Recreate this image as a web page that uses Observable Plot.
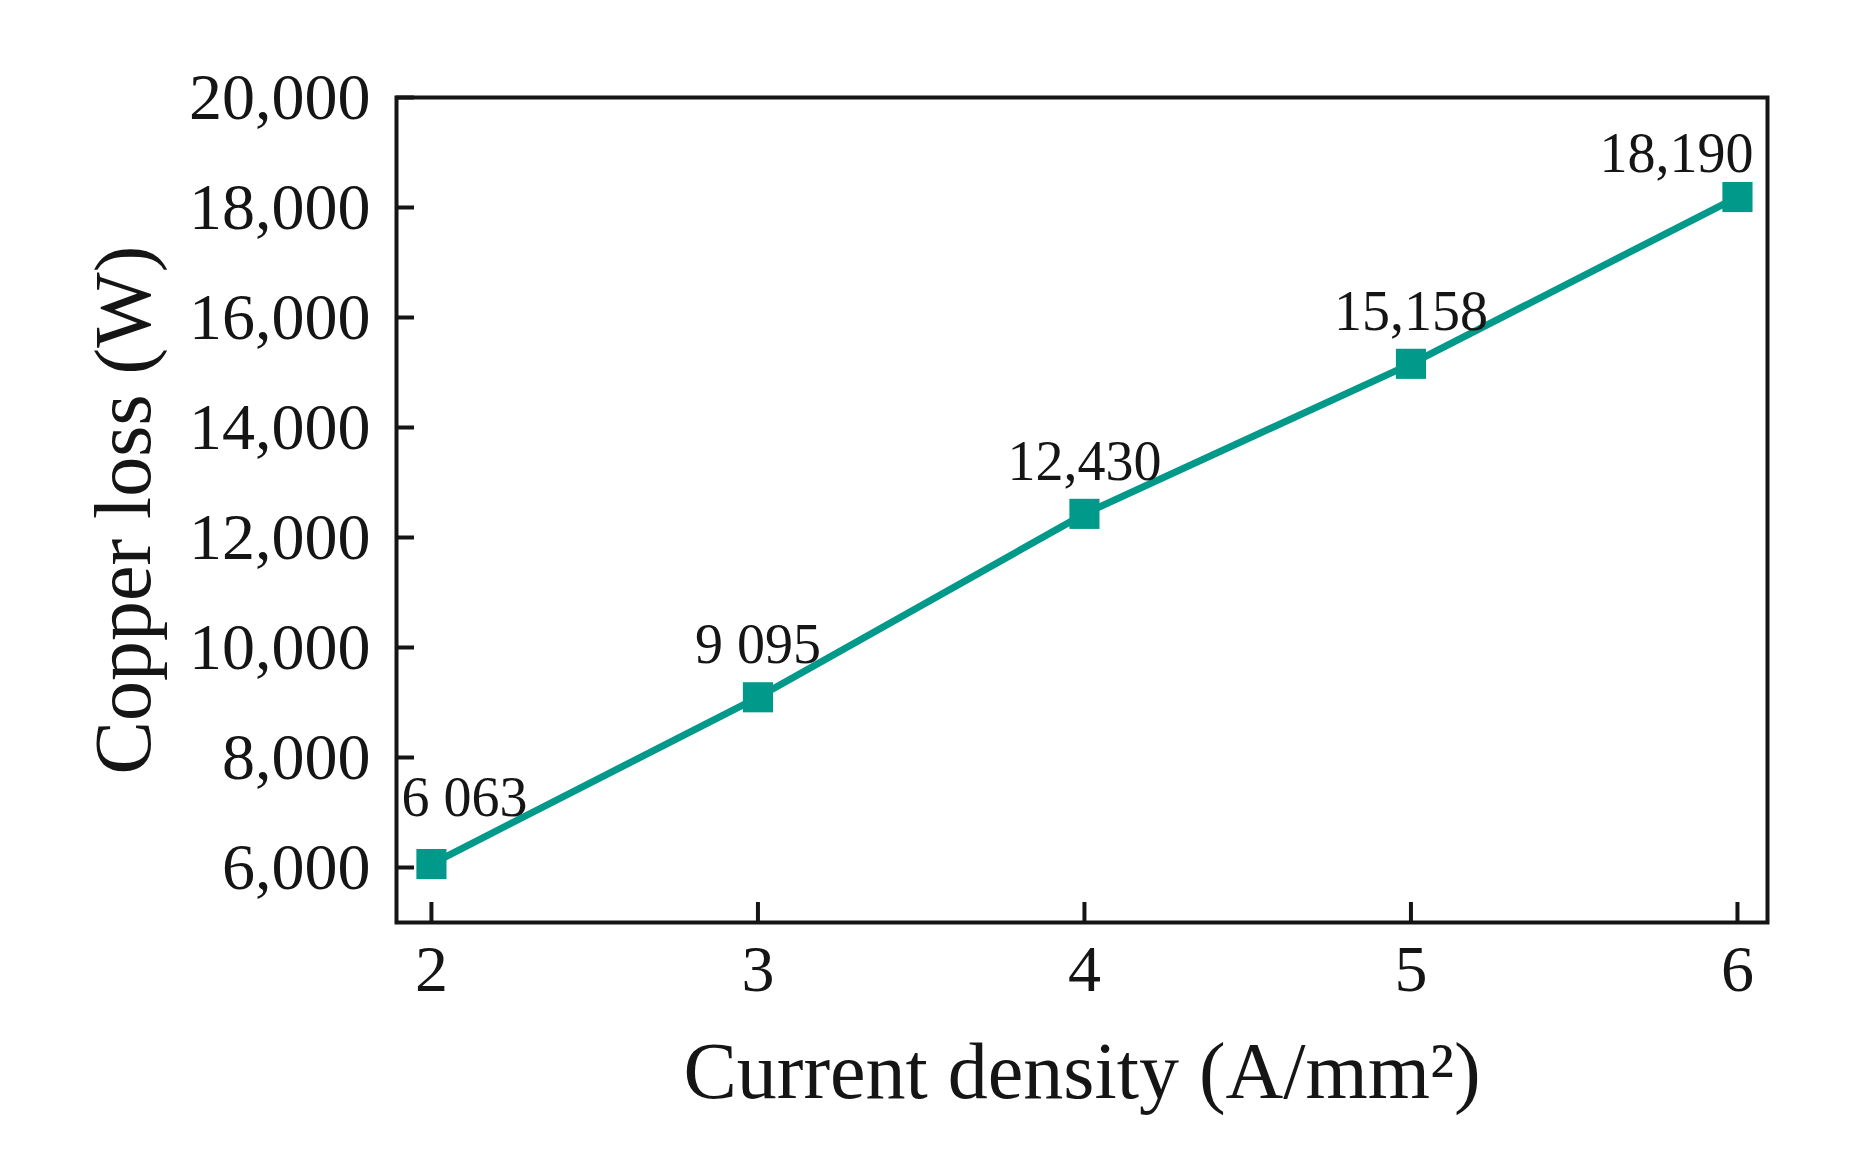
<!DOCTYPE html>
<html>
<head>
<meta charset="utf-8">
<script src="https://cdn.jsdelivr.net/npm/d3@7"></script>
<script src="https://cdn.jsdelivr.net/npm/@observablehq/plot@0.6"></script>
<style>
  html, body { margin: 0; padding: 0; background: #fff; }
  #chart { width: 1852px; height: 1163px; }
</style>
</head>
<body>
<div id="chart"></div>
<script>
// Data
const currentDensity = [2, 3, 4, 5, 6];
const copperLoss = [6063, 9095, 12430, 15158, 18190];
const pointLabels = ["6 063", "9 095", "12,430", "15,158", "18,190"];
const xTicks = [2, 3, 4, 5, 6];
const yTicks = [6000, 8000, 10000, 12000, 14000, 16000, 18000, 20000];
const xTitle = "Current density (A/mm²)";
const yTitle = "Copper loss (W)";

const data = currentDensity.map((x, i) => ({x, y: copperLoss[i], label: pointLabels[i], i}));

const W = 1852, H = 1163;
const mL = 396, mR = 85, mT = 97, mB = 241;
const plotW = W - mL - mR, plotH = H - mT - mB;
const teal = "#00998a";
const ink = "#151515";
const font = "'Liberation Serif', 'Times New Roman', serif";

const chart = Plot.plot({
  width: W,
  height: H,
  marginLeft: mL,
  marginRight: mR,
  marginTop: mT,
  marginBottom: mB,
  style: {fontFamily: font, background: "#fff", color: ink},
  x: {domain: [1.893, 6.092]},
  y: {domain: [5000, 20000]},
  marks: [
    Plot.axisX(xTicks, {tickSize: 0, tickPadding: 22, fontSize: 66, label: null, tickFormat: d => String(d)}),
    Plot.axisY(yTicks, {tickSize: 0, tickPadding: 26, fontSize: 66, label: null, tickFormat: d3.format(",")}),
    Plot.tickX(xTicks, {x: d => d, insetTop: plotH - 20, stroke: ink, strokeWidth: 4}),
    Plot.tickY(yTicks, {y: d => d, insetRight: plotW - 18, stroke: ink, strokeWidth: 4}),
    Plot.frame({stroke: ink, strokeWidth: 4}),
    Plot.line(data, {x: "x", y: "y", stroke: teal, strokeWidth: 7}),
    Plot.dot(data, {x: "x", y: "y", symbol: "square", r: 17, fill: teal, stroke: "none"}),
    Plot.text(data.filter(d => d.i === 0), {x: "x", y: "y", text: "label", textAnchor: "start", dx: -30, dy: -66, fontSize: 56, fill: ink}),
    Plot.text(data.filter(d => d.i > 0 && d.i < data.length - 1), {x: "x", y: "y", text: "label", textAnchor: "middle", dy: -52, fontSize: 56, fill: ink}),
    Plot.text(data.filter(d => d.i === data.length - 1), {x: "x", y: "y", text: "label", textAnchor: "end", dx: 16, dy: -43, fontSize: 56, fill: ink}),
    Plot.text([xTitle], {frameAnchor: "bottom", textAnchor: "middle", lineAnchor: "middle", dy: 150, fontSize: 80, fill: ink}),
    Plot.text([yTitle], {frameAnchor: "left", textAnchor: "middle", lineAnchor: "middle", dx: -272, rotate: -90, fontSize: 80, fill: ink})
  ]
});
document.getElementById("chart").appendChild(chart);
</script>
</body>
</html>
